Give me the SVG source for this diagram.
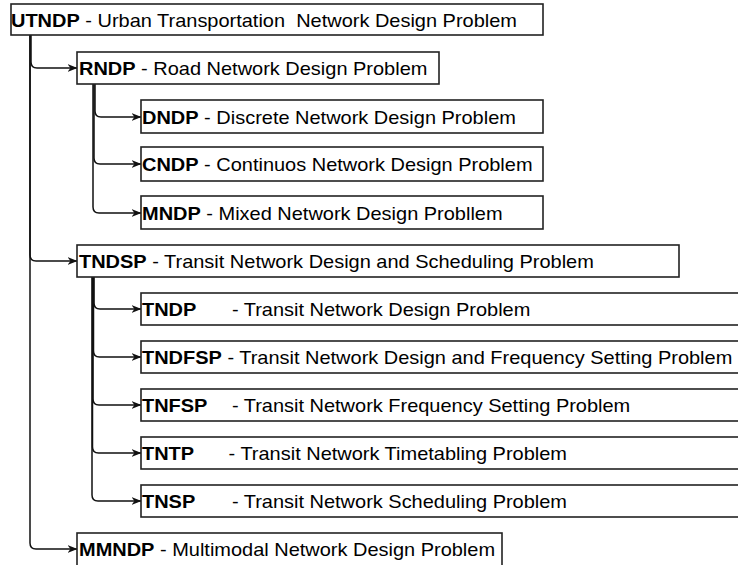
<svg xmlns="http://www.w3.org/2000/svg" width="738" height="565" viewBox="0 0 738 565">
  <style>
    .box { fill: #ffffff; stroke: #222222; stroke-width: 1.6; }
    .lbl { font-family: "Liberation Sans", Arial, sans-serif; font-size: 18px; fill: #000000; white-space: pre; }
    .b { font-weight: bold; }
    .edge { fill: none; stroke: #111111; stroke-width: 1.5; marker-end: url(#arrow); }
  </style>
  <defs>
    <marker id="arrow" viewBox="0 0 10 8" refX="9.5" refY="4" markerWidth="10" markerHeight="8" markerUnits="userSpaceOnUse" orient="auto">
      <path d="M0,0 L10,4 L0,8 L3,4 Z" fill="#111111"/>
    </marker>
  </defs>
  <rect width="738" height="565" fill="#ffffff"/>

  <g id="connectors">
    <!-- UTNDP children -->
    <path class="edge" d="M31,35 V62 Q31,68 37,68 H77"/>
    <path class="edge" d="M30,35 V255 Q30,261 36,261 H77"/>
    <path class="edge" d="M30,35 V543 Q30,549 36,549 H77"/>
    <!-- RNDP children -->
    <path class="edge" d="M95,84 V111 Q95,117 101,117 H141"/>
    <path class="edge" d="M94,84 V158 Q94,164 100,164 H141"/>
    <path class="edge" d="M93,84 V207 Q93,213 99,213 H141"/>
    <!-- TNDSP children -->
    <path class="edge" d="M94,277 V303 Q94,309 100,309 H141"/>
    <path class="edge" d="M93.5,277 V351 Q93.5,357 99.5,357 H141"/>
    <path class="edge" d="M93,277 V399 Q93,405 99,405 H141"/>
    <path class="edge" d="M92.5,277 V447 Q92.5,453 98.5,453 H141"/>
    <path class="edge" d="M92,277 V495 Q92,501 98,501 H141"/>
  </g>

  <g id="utndp">
    <rect class="box" x="11" y="4" width="532" height="31"/>
    <text class="lbl" transform="translate(11,27) scale(1.11,1)"><tspan class="b">UTNDP</tspan> - Urban Transportation  Network Design Problem</text>
  </g>

  <g id="rndp">
    <rect class="box" x="77" y="52" width="362" height="32"/>
    <text class="lbl" transform="translate(79,75) scale(1.11,1)"><tspan class="b">RNDP</tspan> - Road Network Design Problem</text>
  </g>
  <g id="dndp">
    <rect class="box" x="141" y="100" width="402" height="33"/>
    <text class="lbl" transform="translate(142,124) scale(1.11,1)"><tspan class="b">DNDP</tspan> - Discrete Network Design Problem</text>
  </g>
  <g id="cndp">
    <rect class="box" x="141" y="147" width="402" height="34"/>
    <text class="lbl" transform="translate(142,171) scale(1.11,1)"><tspan class="b">CNDP</tspan> - Continuos Network Design Problem</text>
  </g>
  <g id="mndp">
    <rect class="box" x="141" y="196" width="402" height="33"/>
    <text class="lbl" transform="translate(142,220) scale(1.11,1)"><tspan class="b">MNDP</tspan> - Mixed Network Design Probllem</text>
  </g>

  <g id="tndsp">
    <rect class="box" x="77" y="245" width="602" height="32"/>
    <text class="lbl" transform="translate(79,268) scale(1.11,1)"><tspan class="b">TNDSP</tspan> - Transit Network Design and Scheduling Problem</text>
  </g>
  <g id="tndp">
    <rect class="box" x="141" y="293" width="610" height="32"/>
    <text class="lbl" transform="translate(142,316) scale(1.11,1)"><tspan class="b">TNDP</tspan><tspan x="81">- Transit Network Design Problem</tspan></text>
  </g>
  <g id="tndfsp">
    <rect class="box" x="141" y="341" width="610" height="32"/>
    <text class="lbl" transform="translate(142,364) scale(1.11,1)"><tspan class="b">TNDFSP</tspan> - Transit Network Design and Frequency Setting Problem</text>
  </g>
  <g id="tnfsp">
    <rect class="box" x="141" y="389" width="610" height="32"/>
    <text class="lbl" transform="translate(142,412) scale(1.11,1)"><tspan class="b">TNFSP</tspan><tspan x="81">- Transit Network Frequency Setting Problem</tspan></text>
  </g>
  <g id="tntp">
    <rect class="box" x="141" y="437" width="610" height="32"/>
    <text class="lbl" transform="translate(142,460) scale(1.11,1)"><tspan class="b">TNTP</tspan><tspan x="78">- Transit Network Timetabling Problem</tspan></text>
  </g>
  <g id="tnsp">
    <rect class="box" x="141" y="485" width="610" height="32"/>
    <text class="lbl" transform="translate(142,508) scale(1.11,1)"><tspan class="b">TNSP</tspan><tspan x="81">- Transit Network Scheduling Problem</tspan></text>
  </g>

  <g id="mmndp">
    <rect class="box" x="77" y="533" width="425" height="40"/>
    <text class="lbl" transform="translate(79,556) scale(1.11,1)"><tspan class="b">MMNDP</tspan> - Multimodal Network Design Problem</text>
  </g>
</svg>
